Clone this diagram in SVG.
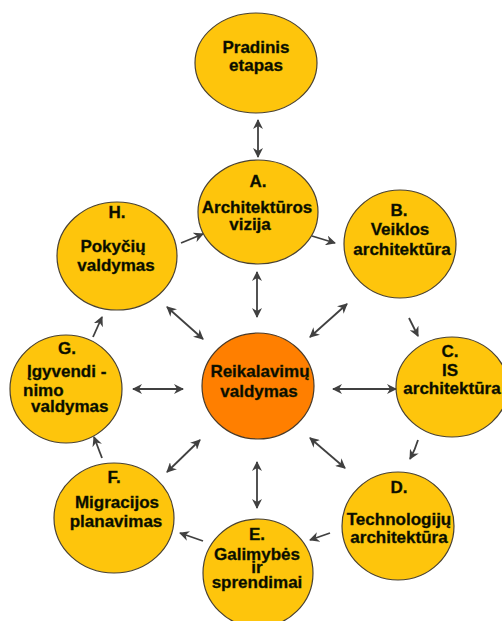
<svg xmlns="http://www.w3.org/2000/svg" width="502" height="621" viewBox="0 0 502 621">
  <defs>
    <marker id="head" viewBox="0 0 10 10" refX="9" refY="5" markerWidth="10" markerHeight="10" markerUnits="userSpaceOnUse" orient="auto-start-reverse">
      <path d="M0,0 L10,5 L0,10 L3,5 Z" fill="#404040"/>
    </marker>
    <style>
      .node { fill: #FEC50C; stroke: #4a4232; stroke-width: 1.2; }
      .hub { fill: #FF7F00; stroke: #4a3a28; stroke-width: 1.2; }
      .lbl { font-family: "Liberation Sans", Arial, sans-serif; font-weight: bold; font-size: 17px; fill: #0a0a00; stroke: #1c2a00; stroke-width: 0.35; text-anchor: middle; }
      .left { text-anchor: start; }
      .one { fill: none; stroke: #404040; stroke-width: 1.8; marker-end: url(#head); }
      .two { fill: none; stroke: #404040; stroke-width: 1.8; marker-start: url(#head); marker-end: url(#head); }
    </style>
  </defs>
  <rect width="502" height="621" fill="#ffffff"/>

  <g id="connectors">
    <!-- start phase and hub links (two-way) -->
    <line class="two" x1="258" y1="120" x2="258" y2="157"/>
    <line class="two" x1="257" y1="272" x2="257" y2="317"/>
    <line class="two" x1="310" y1="337" x2="347" y2="304"/>
    <line class="two" x1="333" y1="389" x2="396" y2="389"/>
    <line class="two" x1="310" y1="438" x2="345" y2="468"/>
    <line class="two" x1="257" y1="462" x2="257" y2="508"/>
    <line class="two" x1="167" y1="472" x2="200" y2="440"/>
    <line class="two" x1="133" y1="389" x2="183" y2="389"/>
    <line class="two" x1="167" y1="307" x2="203" y2="339"/>
    <!-- cycle around the hub (one-way) -->
    <line class="one" x1="312" y1="236" x2="335" y2="243"/>
    <path class="one" d="M409,318 Q413,326 418,336"/>
    <path class="one" d="M418,440 Q415,450 410,459"/>
    <line class="one" x1="330" y1="533" x2="310" y2="540"/>
    <line class="one" x1="203" y1="541" x2="180" y2="533"/>
    <line class="one" x1="102" y1="458" x2="94" y2="437"/>
    <line class="one" x1="93" y1="337" x2="102" y2="317"/>
    <line class="one" x1="181" y1="243" x2="203" y2="234"/>
  </g>

  <g id="node-start">
    <ellipse class="node" cx="256" cy="63" rx="61" ry="50"/>
    <text class="lbl" x="256" y="53">Pradinis</text>
    <text class="lbl" x="256" y="71">etapas</text>
  </g>

  <g id="node-a">
    <ellipse class="node" cx="258" cy="212" rx="60" ry="52"/>
    <text class="lbl" x="258" y="187">A.</text>
    <text class="lbl" x="257" y="213">Architektūros</text>
    <text class="lbl" x="250" y="230">vizija</text>
  </g>

  <g id="node-b">
    <ellipse class="node" cx="400" cy="244" rx="56" ry="54"/>
    <text class="lbl" x="399" y="216">B.</text>
    <text class="lbl" x="400" y="235">Veiklos</text>
    <text class="lbl" x="402" y="255">architektūra</text>
  </g>

  <g id="node-c">
    <ellipse class="node" cx="452" cy="387" rx="56" ry="50"/>
    <text class="lbl" x="450" y="357">C.</text>
    <text class="lbl" x="450" y="376">IS</text>
    <text class="lbl" x="452" y="394">architektūra</text>
  </g>

  <g id="node-d">
    <ellipse class="node" cx="398" cy="526" rx="56" ry="54"/>
    <text class="lbl" x="399" y="493">D.</text>
    <text class="lbl" x="399" y="525">Technologijų</text>
    <text class="lbl" x="399" y="543">architektūra</text>
  </g>

  <g id="node-e">
    <ellipse class="node" cx="258" cy="573" rx="55" ry="54"/>
    <text class="lbl" x="257" y="540">E.</text>
    <text class="lbl" x="257" y="560">Galimybės</text>
    <text class="lbl" x="257" y="573">ir</text>
    <text class="lbl" x="257" y="588">sprendimai</text>
  </g>

  <g id="node-f">
    <ellipse class="node" cx="114" cy="518" rx="60" ry="55"/>
    <text class="lbl" x="114" y="483">F.</text>
    <text class="lbl" x="117" y="508">Migracijos</text>
    <text class="lbl" x="116" y="527">planavimas</text>
  </g>

  <g id="node-g">
    <ellipse class="node" cx="66" cy="389" rx="56" ry="54"/>
    <text class="lbl" x="67" y="354">G.</text>
    <text class="lbl left" x="27" y="377">Įgyvendi -</text>
    <text class="lbl left" x="23" y="396">nimo</text>
    <text class="lbl left" x="31" y="412">valdymas</text>
  </g>

  <g id="node-h">
    <ellipse class="node" cx="117" cy="256" rx="60" ry="54"/>
    <text class="lbl" x="117" y="218">H.</text>
    <text class="lbl" x="113" y="252">Pokyčių</text>
    <text class="lbl" x="116" y="271">valdymas</text>
  </g>

  <g id="node-hub">
    <ellipse class="hub" cx="258" cy="386" rx="56" ry="53"/>
    <text class="lbl" x="260" y="377">Reikalavimų</text>
    <text class="lbl" x="259" y="397">valdymas</text>
  </g>
</svg>
